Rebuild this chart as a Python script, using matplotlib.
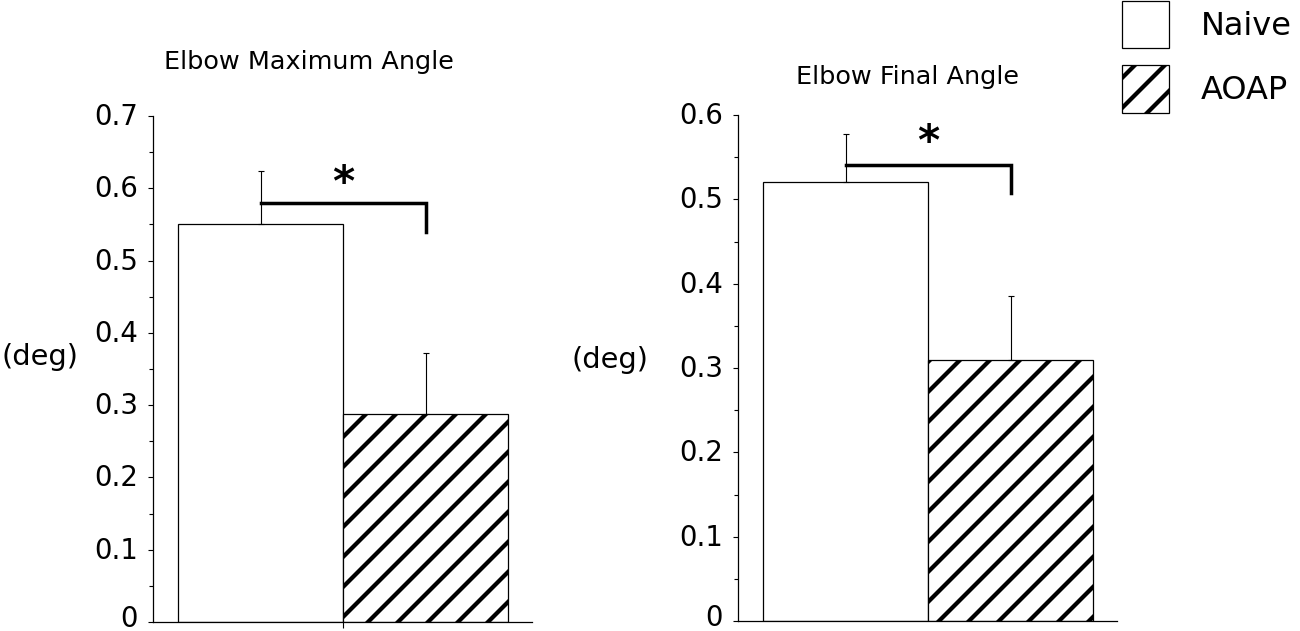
import matplotlib
matplotlib.use("Agg")
import matplotlib.pyplot as plt
import matplotlib.patches as mpatches
import matplotlib.transforms as mtransforms
from matplotlib.ticker import MultipleLocator, NullFormatter

# ---------------- data ----------------
categories = ["Naive", "AOAP"]
max_angle_mean = [0.551, 0.288]
max_angle_err = [0.073, 0.084]
final_angle_mean = [0.520, 0.310]
final_angle_err = [0.058, 0.075]
max_ticks = [0, 0.1, 0.2, 0.3, 0.4, 0.5, 0.6, 0.7]
final_ticks = [0, 0.1, 0.2, 0.3, 0.4, 0.5, 0.6]
max_tick_labels = ["0", "0.1", "0.2", "0.3", "0.4", "0.5", "0.6", "0.7"]
final_tick_labels = ["0", "0.1", "0.2", "0.3", "0.4", "0.5", "0.6"]
titles = ["Elbow Maximum Angle", "Elbow Final Angle"]
# significance bracket levels (horizontal, drop end, star)
max_sig = (0.579, 0.540, 0.606)
final_sig = (0.541, 0.508, 0.567)

DPI = 180
W, H = 1300, 631
plt.rcParams["hatch.linewidth"] = 1.7
plt.rcParams["font.family"] = ["DejaVu Sans"]

fig = plt.figure(figsize=(W / DPI, H / DPI), dpi=DPI)


def px_axes(x0, x1, ytop, ybot):
    return fig.add_axes([x0 / W, (H - ybot) / H, (x1 - x0) / W, (ybot - ytop) / H])


ax1 = px_axes(153, 532, 116, 622)
ax2 = px_axes(738, 1117, 115, 621)

hatches = ["", "//"]
x = [0, 1]


def shift_up(px):
    return mtransforms.ScaledTranslation(0, px / DPI, fig.dpi_scale_trans)


def panel(ax, means, errs, ticks, labels, ymax, sig, xtick):
    for i in range(len(categories)):
        ax.bar(x[i], means[i], width=1.0, color="white", edgecolor="black",
               linewidth=0.5, hatch=hatches[i], zorder=2)
    ax.errorbar(x, means, yerr=[[0] * len(errs), errs], fmt="none",
                ecolor="black", elinewidth=0.45, capsize=1.3, capthick=0.45,
                zorder=3)
    yh, yb, ys = sig
    ax.plot([x[0], x[1], x[1]], [yh, yh, yb], color="black", lw=1.4,
            solid_joinstyle="miter", zorder=4)
    ax.text((x[0] + x[1]) / 2, ys, "*", ha="center", va="center",
            fontsize=17, fontweight="bold", zorder=4)
    ax.set_xlim(-0.652, 1.645)
    ax.set_ylim(0, ymax)
    ax.set_yticks(ticks)
    ax.set_yticklabels(labels)
    ax.yaxis.set_minor_locator(MultipleLocator(0.05))
    ax.yaxis.set_minor_formatter(NullFormatter())
    ax.tick_params(axis="y", which="major", length=2.0, width=0.45,
                   direction="out", pad=4.0, labelsize=11)
    ax.tick_params(axis="y", which="minor", length=1.6, width=0.45,
                   direction="out")
    for k, lab in enumerate(ax.get_yticklabels()):
        lab.set_transform(lab.get_transform() + shift_up(6 if k == 0 else 2))
    if xtick:
        ax.set_xticks([0.5])
        ax.set_xticklabels([""])
        ax.tick_params(axis="x", length=2.4, width=0.45, direction="out")
    else:
        ax.set_xticks([])
    for s in ["top", "right"]:
        ax.spines[s].set_visible(False)
    for s in ["left", "bottom"]:
        ax.spines[s].set_linewidth(0.5)


panel(ax1, max_angle_mean, max_angle_err, max_ticks, max_tick_labels, 0.7,
      max_sig, True)
panel(ax2, final_angle_mean, final_angle_err, final_ticks, final_tick_labels,
      0.6, final_sig, False)

# titles and unit labels
fig.text(309 / W, 1 - 69 / H, titles[0], ha="center", va="baseline",
         fontsize=10.2)
fig.text(907 / W, 1 - 84 / H, titles[1], ha="center", va="baseline",
         fontsize=10.2)
fig.text(40 / W, 1 - 357 / H, "(deg)", ha="center", va="center", fontsize=11.5)
fig.text(610 / W, 1 - 360 / H, "(deg)", ha="center", va="center", fontsize=11.5)

# legend
handles = [mpatches.Patch(facecolor="white", edgecolor="black", linewidth=0.5,
                          hatch=hatches[i], label=categories[i])
           for i in range(len(categories))]
fig.legend(handles=handles, loc="upper left",
           bbox_to_anchor=(1122 / W, 1 - 1 / H), frameon=False,
           fontsize=12.8, handlelength=1.47, handleheight=1.89,
           handletextpad=1.0, labelspacing=0.54, borderpad=0,
           borderaxespad=0)

fig.savefig("out.png", dpi=DPI)
